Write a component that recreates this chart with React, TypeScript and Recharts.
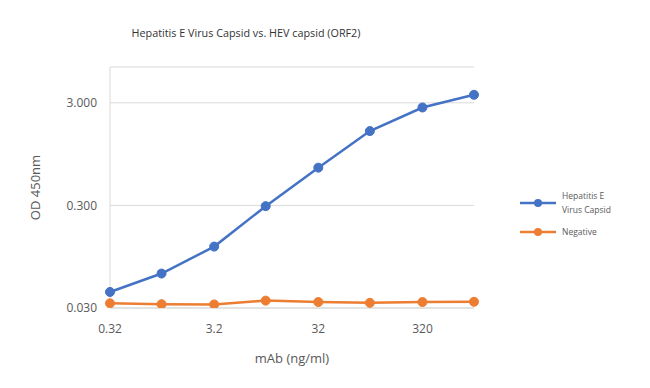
import React from "react";
import {
  LineChart,
  Line,
  XAxis,
  YAxis,
  CartesianGrid,
  Legend,
} from "recharts";

const concentrations = [0.32, 1, 3.2, 10, 32, 100, 320, 1000];
const hevCapsid = [0.043, 0.065, 0.119, 0.295, 0.7, 1.59, 2.7, 3.59];
const negative = [0.0333, 0.0327, 0.0325, 0.0354, 0.0343, 0.0337, 0.0343, 0.0345];
const xTicks = [0.32, 3.2, 32, 320];
const yTicks = [0.03, 0.3, 3];

const BLUE = "#4472C4";
const ORANGE = "#ED7D31";
const FONT = "'Open Sans', sans-serif";

const data = concentrations.map((c, i) => ({
  conc: c,
  hev: hevCapsid[i],
  neg: negative[i],
}));

const seriesInfo = [
  { key: "hev", lines: ["Hepatitis E", "Virus Capsid"], color: BLUE },
  { key: "neg", lines: ["Negative"], color: ORANGE },
];

function LegendBox() {
  return (
    <div style={{ fontFamily: FONT, fontSize: 8.5, color: "#595959" }}>
      {seriesInfo.map((s) => (
        <div
          key={s.key}
          style={{ display: "flex", alignItems: "center", marginBottom: 8 }}
        >
          <svg width={38} height={10} style={{ marginRight: 4 }}>
            <line x1={0} y1={5} x2={36} y2={5} stroke={s.color} strokeWidth={2.5} />
            <circle cx={18} cy={5} r={4} fill={s.color} />
          </svg>
          <div style={{ lineHeight: "14px" }}>
            {s.lines.map((l) => (
              <div key={l}>{l}</div>
            ))}
          </div>
        </div>
      ))}
    </div>
  );
}

export default function App() {
  return (
    <div
      style={{
        position: "absolute",
        left: 0,
        top: 0,
        width: 650,
        height: 388,
        background: "#fff",
      }}
    >
      <div
        style={{
          position: "absolute",
          left: 0,
          width: 492,
          top: 25,
          textAlign: "center",
          fontFamily: FONT,
          fontSize: 10.8,
          color: "#333",
        }}
      >
        Hepatitis E Virus Capsid vs. HEV capsid (ORF2)
      </div>
      <LineChart
        width={650}
        height={388}
        data={data}
        margin={{ top: 67, right: 56, bottom: 0, left: 0 }}
      >
        <CartesianGrid vertical={false} stroke="#d9d9d9" />
        <XAxis
          dataKey="conc"
          type="number"
          scale="log"
          domain={[0.32, 1000]}
          ticks={xTicks}
          tickFormatter={(v: number) => String(v)}
          height={80}
          stroke="#d9d9d9"
          tickLine={false}
          tickSize={0}
          tickMargin={16}
          tick={{ fill: "#595959", fontSize: 12, fontFamily: FONT }}
          label={{
            value: "mAb (ng/ml)",
            position: "insideBottom",
            offset: 25,
            fill: "#595959",
            fontSize: 13,
            fontFamily: FONT,
          }}
        />
        <YAxis
          type="number"
          scale="log"
          domain={[0.03, 6.7]}
          allowDataOverflow
          ticks={yTicks}
          tickFormatter={(v: number) => v.toFixed(3)}
          width={110}
          stroke="#d9d9d9"
          tickLine={false}
          tickSize={0}
          tickMargin={13}
          tick={{ fill: "#595959", fontSize: 12, fontFamily: FONT }}
          label={{
            value: "OD 450nm",
            angle: -90,
            position: "insideLeft",
            offset: 35,
            fill: "#595959",
            fontSize: 13,
            fontFamily: FONT,
            style: { textAnchor: "middle" },
          }}
        />
        <Legend
          layout="vertical"
          align="right"
          verticalAlign="top"
          content={<LegendBox />}
          wrapperStyle={{ left: 520, top: 189, width: 120 }}
        />
        <Line
          dataKey="hev"
          stroke={BLUE}
          strokeWidth={2.5}
          dot={{ r: 4.5, fill: BLUE, stroke: BLUE, strokeWidth: 1 }}
          isAnimationActive={false}
        />
        <Line
          dataKey="neg"
          stroke={ORANGE}
          strokeWidth={2.5}
          dot={{ r: 4.5, fill: ORANGE, stroke: ORANGE, strokeWidth: 1 }}
          isAnimationActive={false}
        />
      </LineChart>
    </div>
  );
}
